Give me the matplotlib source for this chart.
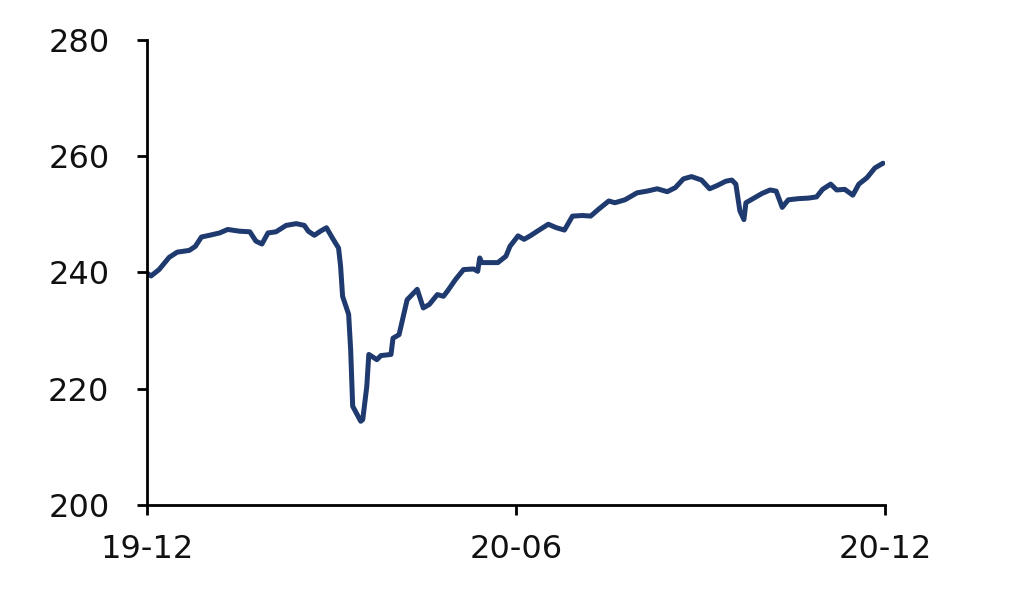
import pandas as pd
import matplotlib
matplotlib.use("Agg")
import matplotlib.pyplot as plt

# values
dates = ['2019-12-01', '2019-12-03', '2019-12-07', '2019-12-12', '2019-12-16', '2019-12-22',
         '2019-12-25', '2019-12-28', '2020-01-01', '2020-01-06', '2020-01-10', '2020-01-16',
         '2020-01-21', '2020-01-24', '2020-01-27', '2020-01-30', '2020-02-03', '2020-02-08',
         '2020-02-13', '2020-02-17', '2020-02-19', '2020-02-22', '2020-02-25', '2020-02-28',
         '2020-03-02', '2020-03-05', '2020-03-06', '2020-03-07', '2020-03-10', '2020-03-11',
         '2020-03-12', '2020-03-16', '2020-03-17', '2020-03-19', '2020-03-20', '2020-03-24',
         '2020-03-26', '2020-03-31', '2020-04-01', '2020-04-04', '2020-04-08', '2020-04-13',
         '2020-04-16', '2020-04-19', '2020-04-23', '2020-04-26', '2020-04-28', '2020-05-02',
         '2020-05-06', '2020-05-11', '2020-05-13', '2020-05-14', '2020-05-15', '2020-05-19',
         '2020-05-23', '2020-05-27', '2020-05-29', '2020-06-02', '2020-06-05', '2020-06-08',
         '2020-06-12', '2020-06-17', '2020-06-21', '2020-06-25', '2020-06-29', '2020-07-04',
         '2020-07-08', '2020-07-12', '2020-07-17', '2020-07-20', '2020-07-25', '2020-07-31',
         '2020-08-05', '2020-08-10', '2020-08-15', '2020-08-19', '2020-08-23', '2020-08-27',
         '2020-09-01', '2020-09-05', '2020-09-09', '2020-09-13', '2020-09-16', '2020-09-18',
         '2020-09-20', '2020-09-22', '2020-09-23', '2020-09-26', '2020-10-01', '2020-10-05',
         '2020-10-08', '2020-10-11', '2020-10-14', '2020-10-19', '2020-10-24', '2020-10-28',
         '2020-10-31', '2020-11-04', '2020-11-07', '2020-11-11', '2020-11-15', '2020-11-18',
         '2020-11-22', '2020-11-26', '2020-11-30']
values = [239.9, 239.4, 240.5, 242.6, 243.5, 243.8,
          244.5, 246.1, 246.4, 246.8, 247.4, 247.1,
          247.0, 245.4, 244.9, 246.8, 247.0, 248.1,
          248.4, 248.1, 247.1, 246.4, 247.1, 247.7,
          245.9, 244.2, 241.1, 235.9, 232.8, 226.7,
          217.0, 214.4, 214.7, 220.4, 225.9, 225.0,
          225.7, 225.9, 228.7, 229.3, 235.3, 237.1,
          233.9, 234.5, 236.2, 235.9, 236.8, 238.8,
          240.5, 240.6, 240.2, 242.5, 241.7, 241.7,
          241.7, 242.8, 244.5, 246.3, 245.7, 246.3,
          247.2, 248.3, 247.7, 247.3, 249.7, 249.8,
          249.7, 250.9, 252.3, 252.0, 252.5, 253.7,
          254.0, 254.4, 253.9, 254.6, 256.1, 256.5,
          255.9, 254.4, 255.0, 255.7, 255.9, 255.2,
          250.6, 249.1, 252.0, 252.6, 253.6, 254.2,
          254.0, 251.2, 252.5, 252.7, 252.8, 253.0,
          254.3, 255.2, 254.2, 254.3, 253.3, 255.2,
          256.3, 258.0, 258.8]
tick_dates = ['2019-12-01', '2020-06-01', '2020-12-01']
tick_labels = ['19-12', '20-06', '20-12']
y_ticks = [200, 220, 240, 260, 280]

x = pd.to_datetime(dates)

fig = plt.figure(figsize=(10.15, 5.95), dpi=100)
ax = fig.add_axes([0.1448, 0.1513, 0.7272, 0.7815])

ax.plot(x, values, color='#1f3a6e', linewidth=3.6, solid_joinstyle='round',
        solid_capstyle='round')

ax.set_xlim(pd.Timestamp(tick_dates[0]), pd.Timestamp(tick_dates[-1]))
ax.set_ylim(200, 280)
ax.set_xticks(pd.to_datetime(tick_dates))
ax.set_xticklabels(tick_labels)
ax.set_yticks(y_ticks)

for s in ['top', 'right']:
    ax.spines[s].set_visible(False)
for s in ['left', 'bottom']:
    ax.spines[s].set_linewidth(2.0)
    ax.spines[s].set_color('black')

ax.tick_params(axis='both', direction='out', length=7, width=2.0, labelsize=23,
               colors='black', labelcolor='#111111')
ax.tick_params(axis='y', pad=20)
ax.tick_params(axis='x', pad=14)

plt.savefig("out.png", dpi=100)
